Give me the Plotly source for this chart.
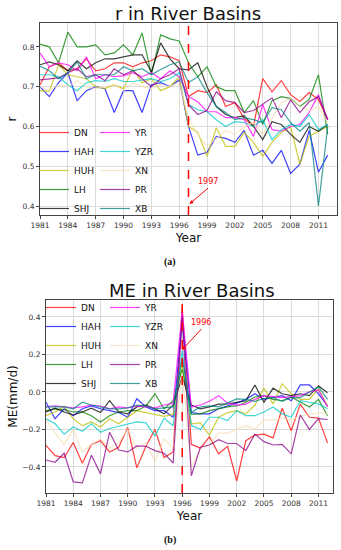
import plotly.graph_objects as go

years = list(range(1981, 2013))
basins = ["DN", "HAH", "HUH", "LH", "SHJ", "YR", "YZR", "XN", "PR", "XB"]
colors = {
    "DN": "rgba(255,0,0,0.75)",
    "HAH": "rgba(0,0,255,0.75)",
    "HUH": "rgba(191,191,0,0.75)",
    "LH": "rgba(0,128,0,0.75)",
    "SHJ": "rgba(0,0,0,0.75)",
    "YR": "rgba(255,0,255,0.75)",
    "YZR": "rgba(0,200,200,0.75)",
    "XN": "rgba(245,222,179,0.75)",
    "PR": "rgba(139,0,139,0.75)",
    "XB": "rgba(0,128,128,0.75)",
}

# ---- r values (panel a) ----
r_DN = [0.705,0.75,0.76,0.74,0.745,0.77,0.74,0.745,0.76,0.76,0.75,0.76,0.765,0.78,0.775,0.765,0.675,0.69,0.685,0.705,0.65,0.66,0.62,0.60,0.72,0.687,0.715,0.68,0.663,0.685,0.668,0.617]
r_HAH = [0.70,0.675,0.71,0.735,0.665,0.69,0.70,0.695,0.635,0.69,0.69,0.635,0.705,0.71,0.70,0.717,0.60,0.528,0.535,0.575,0.57,0.56,0.59,0.528,0.54,0.507,0.54,0.482,0.505,0.59,0.485,0.528]
r_HUH = [0.69,0.688,0.755,0.73,0.725,0.72,0.70,0.695,0.705,0.695,0.745,0.71,0.72,0.69,0.70,0.725,0.60,0.585,0.525,0.597,0.55,0.55,0.585,0.56,0.525,0.56,0.585,0.60,0.505,0.575,0.588,0.60]
r_LH = [0.807,0.80,0.76,0.837,0.80,0.80,0.805,0.78,0.785,0.805,0.78,0.835,0.73,0.83,0.82,0.815,0.76,0.725,0.75,0.70,0.69,0.69,0.635,0.665,0.605,0.665,0.675,0.67,0.65,0.668,0.73,0.58]
r_SHJ = [0.755,0.762,0.755,0.74,0.765,0.745,0.76,0.77,0.77,0.775,0.78,0.78,0.737,0.81,0.77,0.745,0.742,0.76,0.70,0.65,0.63,0.622,0.627,0.60,0.567,0.612,0.605,0.58,0.56,0.60,0.588,0.605]
r_YR = [0.785,0.75,0.76,0.755,0.74,0.775,0.72,0.73,0.725,0.727,0.735,0.725,0.735,0.72,0.74,0.725,0.675,0.662,0.637,0.637,0.622,0.622,0.617,0.575,0.655,0.592,0.588,0.60,0.605,0.635,0.68,0.617]
r_YZR = [0.73,0.73,0.725,0.705,0.69,0.71,0.715,0.713,0.72,0.713,0.713,0.717,0.72,0.713,0.72,0.735,0.655,0.642,0.637,0.617,0.60,0.612,0.61,0.60,0.617,0.567,0.592,0.605,0.60,0.63,0.592,0.605]
r_XN = [0.70,0.69,0.705,0.70,0.715,0.70,0.695,0.70,0.705,0.69,0.71,0.70,0.695,0.705,0.70,0.71,0.62,0.58,0.55,0.57,0.59,0.58,0.60,0.61,0.58,0.62,0.66,0.67,0.65,0.64,0.65,0.61]
r_PR = [0.717,0.72,0.722,0.735,0.745,0.725,0.73,0.715,0.745,0.73,0.74,0.72,0.70,0.72,0.73,0.745,0.655,0.63,0.64,0.687,0.665,0.66,0.635,0.64,0.655,0.672,0.622,0.667,0.635,0.662,0.675,0.617]
r_XB = [0.752,0.74,0.72,0.735,0.762,0.72,0.73,0.73,0.73,0.75,0.74,0.745,0.73,0.743,0.755,0.762,0.71,0.725,0.685,0.65,0.635,0.617,0.622,0.617,0.61,0.647,0.642,0.61,0.588,0.61,0.40,0.60]

# ---- ME values (panel b), mm/d ----
me_DN = [-0.285,-0.34,-0.35,-0.27,-0.38,-0.28,-0.26,-0.32,-0.295,-0.19,-0.405,-0.29,-0.20,-0.35,-0.32,0.45,-0.28,-0.30,-0.24,-0.33,-0.29,-0.475,-0.26,-0.23,-0.225,-0.245,-0.087,-0.207,-0.065,-0.135,-0.14,-0.273]
me_HAH = [-0.055,-0.143,-0.09,-0.127,-0.09,-0.075,-0.09,-0.10,-0.11,-0.135,-0.037,-0.08,-0.10,-0.10,-0.135,0.38,-0.11,-0.117,-0.117,-0.09,-0.075,-0.06,-0.04,-0.01,-0.04,-0.03,-0.02,-0.047,0.037,0.037,-0.01,-0.075]
me_HUH = [-0.127,-0.107,-0.075,-0.143,-0.18,-0.16,-0.187,-0.143,-0.17,-0.135,-0.10,-0.11,-0.12,-0.13,-0.12,0.15,-0.17,-0.165,-0.23,-0.135,-0.11,-0.10,-0.117,-0.07,0.02,-0.064,0.043,-0.01,-0.04,-0.04,0.016,-0.075]
me_LH = [-0.10,-0.09,-0.095,-0.107,-0.107,-0.127,-0.16,-0.127,-0.107,-0.10,-0.10,-0.075,-0.01,-0.09,-0.047,0.12,-0.12,-0.117,-0.10,-0.09,-0.08,-0.075,-0.055,-0.027,-0.02,-0.04,-0.047,-0.027,-0.055,-0.08,-0.04,-0.127]
me_SHJ = [-0.107,-0.087,-0.107,-0.123,-0.107,-0.087,-0.11,-0.047,-0.107,-0.117,-0.08,-0.07,-0.09,-0.117,-0.07,0.08,-0.07,-0.09,-0.08,-0.065,-0.064,-0.055,-0.047,0.037,-0.055,0.02,-0.01,-0.02,-0.01,-0.02,0.032,-0.005]
me_YR = [-0.08,-0.075,-0.08,-0.085,-0.08,-0.07,-0.075,-0.09,-0.08,-0.085,-0.075,-0.08,-0.085,-0.07,-0.06,0.43,-0.08,-0.07,-0.05,-0.02,-0.06,-0.07,-0.065,-0.04,-0.02,-0.025,-0.03,-0.025,-0.02,0.0,0.01,-0.08]
me_YZR = [-0.143,-0.17,-0.225,-0.187,-0.21,-0.17,-0.215,-0.195,-0.183,-0.17,-0.16,-0.165,-0.235,-0.14,-0.18,0.22,-0.18,-0.20,-0.135,-0.135,-0.153,-0.10,-0.127,-0.127,-0.107,-0.08,-0.117,-0.135,-0.047,-0.055,-0.064,-0.09]
me_XN = [-0.15,-0.22,-0.28,-0.20,-0.32,-0.28,-0.25,-0.30,-0.27,-0.20,-0.30,-0.27,-0.37,-0.25,-0.30,0.10,-0.40,-0.30,-0.28,-0.22,-0.22,-0.20,-0.18,-0.20,-0.15,-0.15,-0.14,-0.15,-0.13,-0.12,-0.11,-0.12]
me_PR = [-0.363,-0.375,-0.327,-0.48,-0.485,-0.337,-0.437,-0.215,-0.31,-0.32,-0.288,-0.29,-0.313,-0.327,-0.38,0.40,-0.447,-0.295,-0.283,-0.255,-0.275,-0.275,-0.313,-0.225,-0.265,-0.283,-0.28,-0.33,-0.123,-0.20,-0.143,-0.147]
me_XB = [-0.08,-0.08,-0.08,-0.09,-0.055,-0.07,-0.08,-0.09,-0.09,-0.085,-0.07,-0.075,-0.09,-0.085,-0.08,0.18,-0.11,-0.08,-0.075,-0.08,-0.06,-0.037,-0.04,-0.05,-0.035,-0.03,-0.05,-0.03,-0.03,0.0,0.027,-0.04]

r_series = {"DN": r_DN, "HAH": r_HAH, "HUH": r_HUH, "LH": r_LH, "SHJ": r_SHJ,
            "YR": r_YR, "YZR": r_YZR, "XN": r_XN, "PR": r_PR, "XB": r_XB}
me_series = {"DN": me_DN, "HAH": me_HAH, "HUH": me_HUH, "LH": me_LH, "SHJ": me_SHJ,
             "YR": me_YR, "YZR": me_YZR, "XN": me_XN, "PR": me_PR, "XB": me_XB}

break_year_r = 1997
break_year_me = 1996
xtick_vals = list(range(1981, 2013, 3))
r_ticks = [0.4, 0.5, 0.6, 0.7, 0.8]
me_ticks = [-0.4, -0.2, 0.0, 0.2, 0.4]
me_tick_text = ["\u22120.4", "\u22120.2", "0.0", "0.2", "0.4"]

W, H = 341, 550
FONT = "DejaVu Sans"

fig = go.Figure()
first_col = ["DN", "HAH", "HUH", "LH", "SHJ"]
for name in basins:
    fig.add_trace(go.Scatter(
        x=years, y=r_series[name], mode="lines", name=name,
        line=dict(color=colors[name], width=1.2),
        xaxis="x", yaxis="y",
        legend="legend" if name in first_col else "legend2",
    ))
for name in basins:
    fig.add_trace(go.Scatter(
        x=years, y=me_series[name], mode="lines", name=name,
        line=dict(color=colors[name], width=1.2),
        xaxis="x2", yaxis="y2",
        legend="legend3" if name in first_col else "legend4",
    ))

def px_x(p):
    return p / W

def px_y(p):
    return 1 - p / H

axis_common = dict(
    automargin=False,
    showgrid=True, gridcolor="#dcdcdc", gridwidth=1,
    showline=True, linecolor="#444", linewidth=1, mirror=True,
    ticks="outside", ticklen=3, tickcolor="#444",
    tickfont=dict(family=FONT, size=7.5, color="#333"),
    zeroline=False,
)
title_font = dict(family=FONT, size=12, color="#111")

fig.update_layout(
    template="none",
    width=W, height=H,
    margin=dict(l=0, r=0, t=0, b=0),
    paper_bgcolor="white", plot_bgcolor="white",
    showlegend=True,
    xaxis=dict(domain=[px_x(40), px_x(337)], range=[1981, 2013], anchor="y",
               tickvals=xtick_vals,
               title=dict(text="Year", font=title_font, standoff=4),
               **axis_common),
    yaxis=dict(domain=[px_y(215), px_y(23)], range=[0.3775, 0.86], anchor="x",
               tickvals=r_ticks, ticktext=["0.4", "0.5", "0.6", "0.7", "0.8"],
               title=dict(text="r", font=title_font, standoff=3),
               **axis_common),
    xaxis2=dict(domain=[px_x(46), px_x(333)], range=[1981, 2012.6], anchor="y2",
                tickvals=xtick_vals,
                title=dict(text="Year", font=title_font, standoff=4),
                **axis_common),
    yaxis2=dict(domain=[px_y(493), px_y(300)], range=[-0.539, 0.49], anchor="x2",
                tickvals=me_ticks, ticktext=me_tick_text,
                title=dict(text="ME(mm/d)", font=title_font, standoff=2),
                **axis_common),
)

leg_common = dict(bgcolor="rgba(255,255,255,0)", borderwidth=0,
                  font=dict(family=FONT, size=9, color="#111"),
                  itemwidth=30, xanchor="left", yanchor="top",
                  tracegroupgap=0)
fig.update_layout(
    legend=dict(x=px_x(34), y=px_y(118), **leg_common),
    legend2=dict(x=px_x(95), y=px_y(118), **leg_common),
    legend3=dict(x=px_x(41), y=px_y(293), **leg_common),
    legend4=dict(x=px_x(105), y=px_y(293), **leg_common),
)

# break-year markers
fig.add_shape(type="line", xref="x", yref="y domain", x0=break_year_r, x1=break_year_r,
              y0=0, y1=1, line=dict(color="red", width=1.5, dash="dash"))
fig.add_shape(type="line", xref="x2", yref="y2 domain", x0=break_year_me, x1=break_year_me,
              y0=0, y1=1, line=dict(color="red", width=1.5, dash="dash"))

fig.add_annotation(xref="x", yref="y", x=break_year_r + 0.1, y=0.405,
                   axref="x", ayref="y", ax=break_year_r + 2.1, ay=0.445,
                   text=str(break_year_r), showarrow=True, arrowhead=2, arrowsize=0.8,
                   arrowwidth=1, arrowcolor="red",
                   font=dict(family=FONT, size=8, color="red"), yanchor="bottom")
fig.add_annotation(xref="x2", yref="y2", x=break_year_me, y=0.224,
                   axref="x2", ayref="y2", ax=break_year_me + 2.1, ay=0.335,
                   text=str(break_year_me), showarrow=True, arrowhead=2, arrowsize=0.8,
                   arrowwidth=1, arrowcolor="red",
                   font=dict(family=FONT, size=8, color="red"), yanchor="bottom")

# panel titles and captions
fig.add_annotation(xref="paper", yref="paper", x=px_x(188), y=px_y(13),
                   text="r in River Basins", showarrow=False, yanchor="middle",
                   font=dict(family=FONT, size=18, color="#111"))
fig.add_annotation(xref="paper", yref="paper", x=px_x(192), y=px_y(290),
                   text="ME in River Basins", showarrow=False, yanchor="middle",
                   font=dict(family=FONT, size=18, color="#111"))
fig.add_annotation(xref="paper", yref="paper", x=px_x(170), y=px_y(262),
                   text="<b>(a)</b>", showarrow=False, yanchor="middle",
                   font=dict(family="Liberation Serif", size=10, color="#111"))
fig.add_annotation(xref="paper", yref="paper", x=px_x(170), y=px_y(540),
                   text="<b>(b)</b>", showarrow=False, yanchor="middle",
                   font=dict(family="Liberation Serif", size=10, color="#111"))

fig.write_html("out.html",
               config={"displayModeBar": False},
               post_script="document.body.style.margin='0';document.body.style.overflow='hidden';")
